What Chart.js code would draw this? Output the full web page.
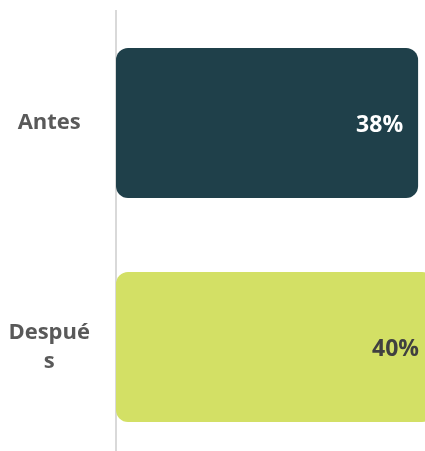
<!DOCTYPE html>
<html>
<head>
<meta charset="utf-8">
<script src="https://cdn.jsdelivr.net/npm/chart.js@4"></script>
<style>
  html, body { margin:0; padding:0; background:#fff; overflow:hidden; width:425px; height:451px; }
  #chart { display:block; }
</style>
</head>
<body>
<canvas id="chart" width="434" height="459"></canvas>
<script>
// --- Datos ---
const categorias = [['Antes'], ['Despué', 's']];
const valores = [38, 40];
const colores = ['#1f404a', '#d3e065'];
const coloresEtiqueta = ['#ffffff', '#404040'];

// Etiquetas de valor dentro del final de cada barra
const etiquetasValor = {
  id: 'etiquetasValor',
  afterDatasetsDraw(chart){
    const ctx = chart.ctx;
    const meta = chart.getDatasetMeta(0);
    ctx.save();
    ctx.font = 'bold 23px "Open Sans", sans-serif';
    ctx.textAlign = 'right';
    ctx.textBaseline = 'middle';
    meta.data.forEach((bar, i)=>{
      ctx.fillStyle = coloresEtiqueta[i];
      ctx.fillText(valores[i] + '%', bar.x - 15, bar.y + 2);
    });
    ctx.restore();
  }
};

const ctx = document.getElementById('chart').getContext('2d');
new Chart(ctx, {
  type: 'bar',
  data: {
    labels: categorias,
    datasets: [{
      data: valores,
      backgroundColor: colores,
      borderRadius: 12,
      borderSkipped: false,
      categoryPercentage: 1,
      barPercentage: 0.67
    }]
  },
  options: {
    indexAxis: 'y',
    responsive: false,
    animation: false,
    layout: { padding: { top: 11, right: 0, bottom: 0, left: 0 } },
    plugins: { legend: { display:false }, tooltip: { enabled:false } },
    scales: {
      x: { display:false, min:0, max:40 },
      y: {
        grid: { display:false },
        border: { display:true, color:'#d9d9d9', width:2 },
        ticks: {
          color:'#595959',
          padding: 18,
          crossAlign: 'center',
          font: { family:'"Open Sans", sans-serif', size:22, weight:'bold', lineHeight:1.3 }
        },
        afterFit(scale){
          // ancho fijo del eje y sin margen extra arriba/abajo
          scale.width = 116;
          scale.paddingTop = 0;
          scale.paddingBottom = 0;
        }
      }
    }
  },
  plugins: [etiquetasValor]
});
</script>
</body>
</html>
